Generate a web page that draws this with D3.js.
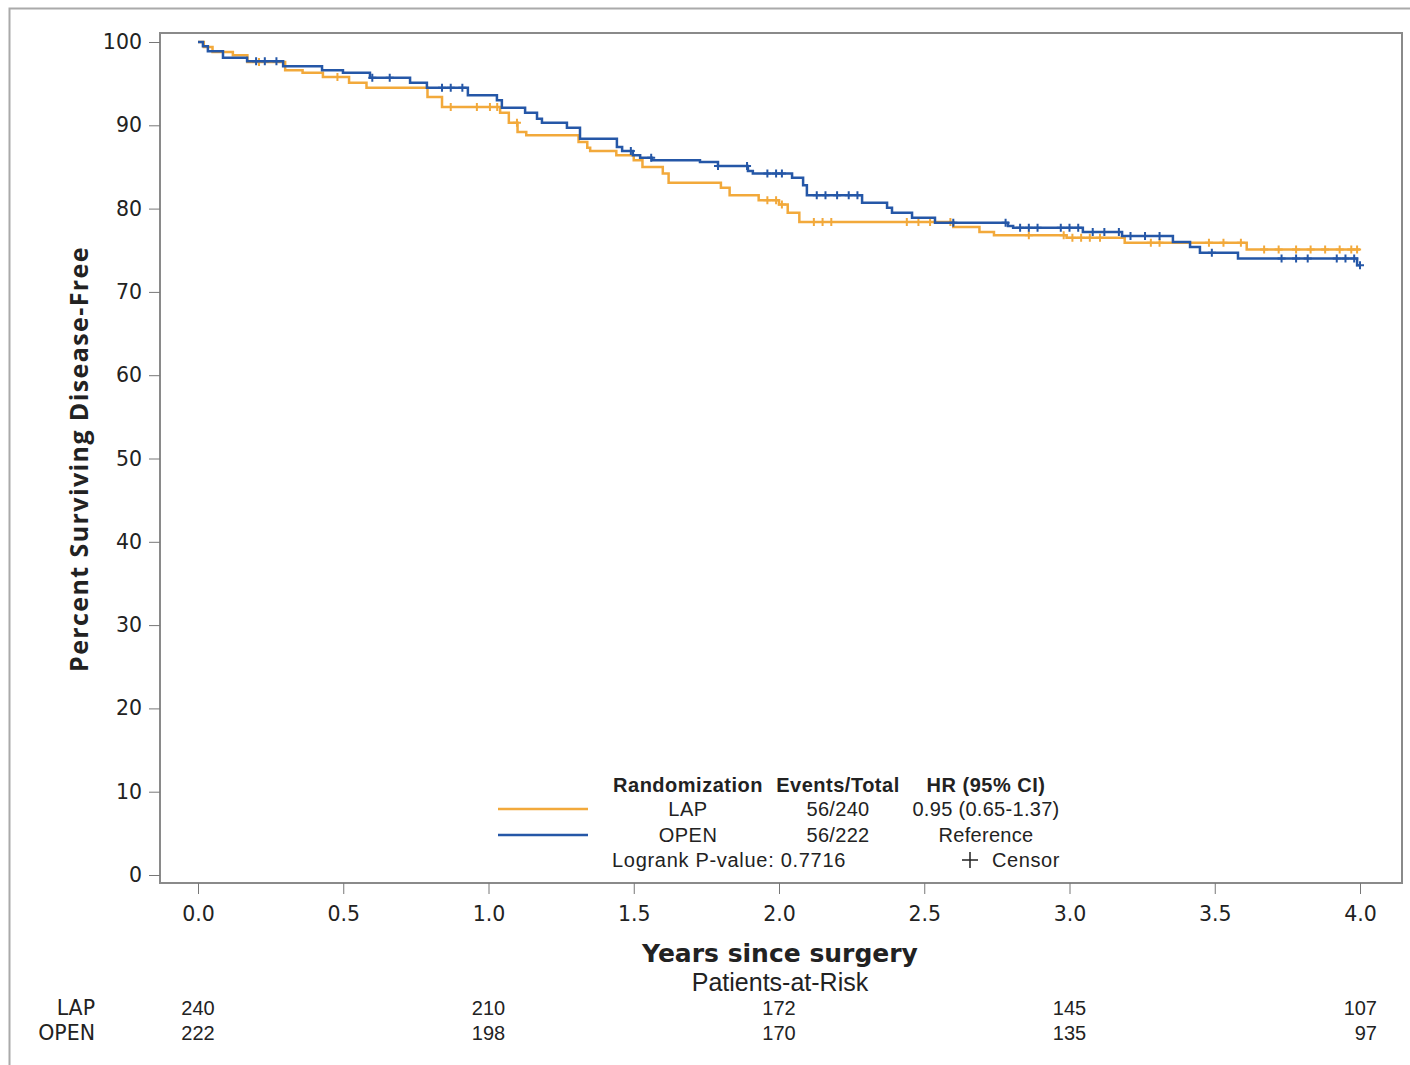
<!DOCTYPE html>
<html>
<head>
<meta charset="utf-8">
<script src="https://cdn.jsdelivr.net/npm/d3@7"></script>
<style>
  body { margin: 0; background: #fff; }
  text { fill: #222; }
</style>
</head>
<body>
<div id="chart"></div>
<script>
// step data: [years, percent disease-free after the step]
const lapSteps = [
  [0, 100], [0.02, 99.4], [0.05, 98.8], [0.12, 98.4], [0.17, 97.6], [0.30, 96.6],
  [0.36, 96.3], [0.43, 95.8], [0.52, 95.1], [0.58, 94.5], [0.79, 93.4], [0.84, 92.2],
  [1.04, 91.5], [1.07, 90.3], [1.10, 89.2], [1.13, 88.8], [1.31, 88.0], [1.34, 87.3],
  [1.35, 86.9], [1.44, 86.4], [1.50, 85.8], [1.53, 85.0], [1.60, 84.2], [1.62, 83.1],
  [1.80, 82.5], [1.83, 81.6], [1.93, 81.0], [2.00, 80.5], [2.03, 79.5], [2.07, 78.4],
  [2.60, 77.8], [2.69, 77.2], [2.74, 76.8], [2.99, 76.5], [3.19, 75.9], [3.61, 75.1],
  [4.00, 75.1]
];
const openSteps = [
  [0, 100], [0.017, 99.5], [0.034, 98.9], [0.086, 98.1], [0.169, 97.7], [0.293, 97.1],
  [0.427, 96.6], [0.499, 96.3], [0.592, 95.7], [0.730, 95.1], [0.788, 94.5], [0.929, 93.6],
  [1.029, 93.0], [1.046, 92.1], [1.126, 91.5], [1.167, 90.8], [1.184, 90.3], [1.270, 89.7],
  [1.315, 88.4], [1.442, 87.4], [1.460, 86.9], [1.497, 86.4], [1.522, 86.1], [1.563, 85.8],
  [1.728, 85.6], [1.790, 85.1], [1.893, 84.5], [1.91, 84.2], [2.045, 83.7], [2.083, 82.8],
  [2.096, 81.6], [2.286, 80.7], [2.372, 80.1], [2.389, 79.5], [2.458, 78.9], [2.537, 78.3],
  [2.788, 77.9], [2.806, 77.7], [3.046, 77.2], [3.181, 76.7], [3.356, 76.0], [3.415, 75.4],
  [3.449, 74.7], [3.580, 74.0], [3.99, 73.2], [4.00, 73.2]
];
const lapCensor = [0.21, 0.48, 0.87, 0.96, 1.005, 1.03, 1.098, 1.96, 1.99, 2.01, 2.12, 2.15,
  2.18, 2.44, 2.48, 2.52, 2.59, 2.86, 2.98, 3.01, 3.04, 3.07, 3.105, 3.28, 3.31, 3.48,
  3.53, 3.59, 3.67, 3.72, 3.78, 3.83, 3.88, 3.93, 3.97, 3.99];
const openCensor = [0.20, 0.23, 0.27, 0.60, 0.66, 0.84, 0.87, 0.91, 1.49, 1.56, 1.79, 1.89,
  1.96, 1.99, 2.01, 2.13, 2.16, 2.20, 2.24, 2.27, 2.60, 2.78, 2.83, 2.86, 2.89, 2.97, 3.00,
  3.03, 3.08, 3.12, 3.17, 3.21, 3.26, 3.31, 3.49, 3.73, 3.78, 3.82, 3.92, 3.95, 3.98, 4.0];

const xTicks = [0, 0.5, 1.0, 1.5, 2.0, 2.5, 3.0, 3.5, 4.0];
const yTicks = [0, 10, 20, 30, 40, 50, 60, 70, 80, 90, 100];
const riskTimes = [0, 1, 2, 3, 4];
const riskLap = [240, 210, 172, 145, 107];
const riskOpen = [222, 198, 170, 135, 97];
const groups = ['LAP', 'OPEN'];
const events = ['56/240', '56/222'];
const hrText = ['0.95 (0.65-1.37)', 'Reference'];

const colors = { LAP: '#f2a93b', OPEN: '#2557a7' };

const width = 1410, height = 1065;
const frame = { left: 160, top: 33, right: 1402, bottom: 883 };

const svg = d3.select('#chart').append('svg')
  .attr('width', width).attr('height', height);

// outer border of the figure
svg.append('rect')
  .attr('x', 9.5).attr('y', 8.5).attr('width', width + 10).attr('height', height + 10)
  .attr('fill', 'none').attr('stroke', '#aaa').attr('stroke-width', 2);

const x = d3.scaleLinear().domain([0, 4]).range([198, 1360]);
const y = d3.scaleLinear().domain([0, 100]).range([875, 42]);

// plot frame
svg.append('rect')
  .attr('x', frame.left).attr('y', frame.top)
  .attr('width', frame.right - frame.left).attr('height', frame.bottom - frame.top)
  .attr('fill', 'none').attr('stroke', '#8a8a8a').attr('stroke-width', 2);

// y axis
const yAxis = svg.append('g')
  .attr('transform', `translate(${frame.left},0)`)
  .call(d3.axisLeft(y).tickValues(yTicks).tickSize(11).tickPadding(7));
yAxis.select('.domain').remove();
yAxis.selectAll('line').attr('stroke', '#777');
yAxis.selectAll('text').attr('font-family', 'DejaVu Sans').attr('font-size', 20.5).attr('fill', '#222');

// x axis
const xAxis = svg.append('g')
  .attr('transform', `translate(0,${frame.bottom})`)
  .call(d3.axisBottom(x).tickValues(xTicks).tickFormat(d3.format('.1f')).tickSize(11).tickPadding(12));
xAxis.select('.domain').remove();
xAxis.selectAll('line').attr('stroke', '#777');
xAxis.selectAll('text').attr('font-family', 'DejaVu Sans').attr('font-size', 20.5).attr('fill', '#222');

// axis titles
svg.append('text')
  .attr('transform', `translate(88,459) rotate(-90)`)
  .attr('text-anchor', 'middle')
  .attr('font-family', 'Open Sans').attr('font-weight', 'bold').attr('font-size', 25)
  .attr('letter-spacing', 1.4)
  .text('Percent Surviving Disease-Free');

svg.append('text')
  .attr('x', 780).attr('y', 962).attr('text-anchor', 'middle')
  .attr('font-family', 'DejaVu Sans').attr('font-weight', 'bold').attr('font-size', 25)
  .text('Years since surgery');

svg.append('text')
  .attr('x', 780).attr('y', 991).attr('text-anchor', 'middle')
  .attr('font-family', 'Liberation Sans').attr('font-size', 25)
  .text('Patients-at-Risk');

// curves
const line = d3.line()
  .x(d => x(d[0])).y(d => y(d[1]))
  .curve(d3.curveStepAfter);

function survAt(steps, t) {
  let v = steps[0][1];
  for (const s of steps) { if (s[0] <= t) v = s[1]; }
  return v;
}

function drawGroup(steps, censor, color) {
  svg.append('path')
    .datum(steps)
    .attr('d', line)
    .attr('fill', 'none')
    .attr('stroke', color)
    .attr('stroke-width', 2.5);
  svg.append('g').selectAll('path')
    .data(censor)
    .join('path')
    .attr('d', t => {
      const cx = x(t), cy = y(survAt(steps, t));
      return `M${cx - 4},${cy}H${cx + 4}M${cx},${cy - 4}V${cy + 4}`;
    })
    .attr('stroke', color)
    .attr('stroke-width', 2);
}

drawGroup(lapSteps, lapCensor, colors.LAP);
drawGroup(openSteps, openCensor, colors.OPEN);

// legend
const lg = svg.append('g').attr('font-family', 'Liberation Sans').attr('font-size', 20);
const colX = [688, 838, 986];
const header = ['Randomization', 'Events/Total', 'HR (95% CI)'];
lg.selectAll('text.h')
  .data(header)
  .join('text')
  .attr('class', 'h')
  .attr('x', (d, i) => colX[i]).attr('y', 792)
  .attr('text-anchor', 'middle').attr('font-weight', 'bold')
  .attr('letter-spacing', 0.5)
  .text(d => d);

groups.forEach((g, i) => {
  const ry = 816 + i * 26;
  lg.append('line')
    .attr('x1', 498).attr('x2', 588).attr('y1', ry - 7).attr('y2', ry - 7)
    .attr('stroke', colors[g]).attr('stroke-width', 2.5);
  lg.append('text').attr('x', colX[0]).attr('y', ry).attr('text-anchor', 'middle').attr('letter-spacing', 0.5).text(g);
  lg.append('text').attr('x', colX[1]).attr('y', ry).attr('text-anchor', 'middle').attr('letter-spacing', 0.3).text(events[i]);
  lg.append('text').attr('x', colX[2]).attr('y', ry).attr('text-anchor', 'middle').attr('letter-spacing', 0.3).text(hrText[i]);
});

lg.append('text').attr('x', 612).attr('y', 867).attr('letter-spacing', 0.7).text('Logrank P-value: 0.7716');
lg.append('path')
  .attr('d', 'M962,860H978M970,852V868')
  .attr('stroke', '#222').attr('stroke-width', 1.5);
lg.append('text').attr('x', 992).attr('y', 867).attr('letter-spacing', 0.6).text('Censor');

// patients at risk table
const rows = [riskLap, riskOpen];
rows.forEach((vals, i) => {
  const ry = 1015 + i * 25;
  svg.append('text')
    .attr('x', 95).attr('y', ry).attr('text-anchor', 'end')
    .attr('font-family', 'DejaVu Sans').attr('font-size', 20.5)
    .text(groups[i]);
  svg.append('g').selectAll('text')
    .data(riskTimes)
    .join('text')
    .attr('x', (t, j) => j === riskTimes.length - 1 ? x(t) + 17 : x(t))
    .attr('y', ry)
    .attr('text-anchor', (t, j) => j === riskTimes.length - 1 ? 'end' : 'middle')
    .attr('font-family', 'Liberation Sans').attr('font-size', 20)
    .text((t, j) => vals[j]);
});
</script>
</body>
</html>
